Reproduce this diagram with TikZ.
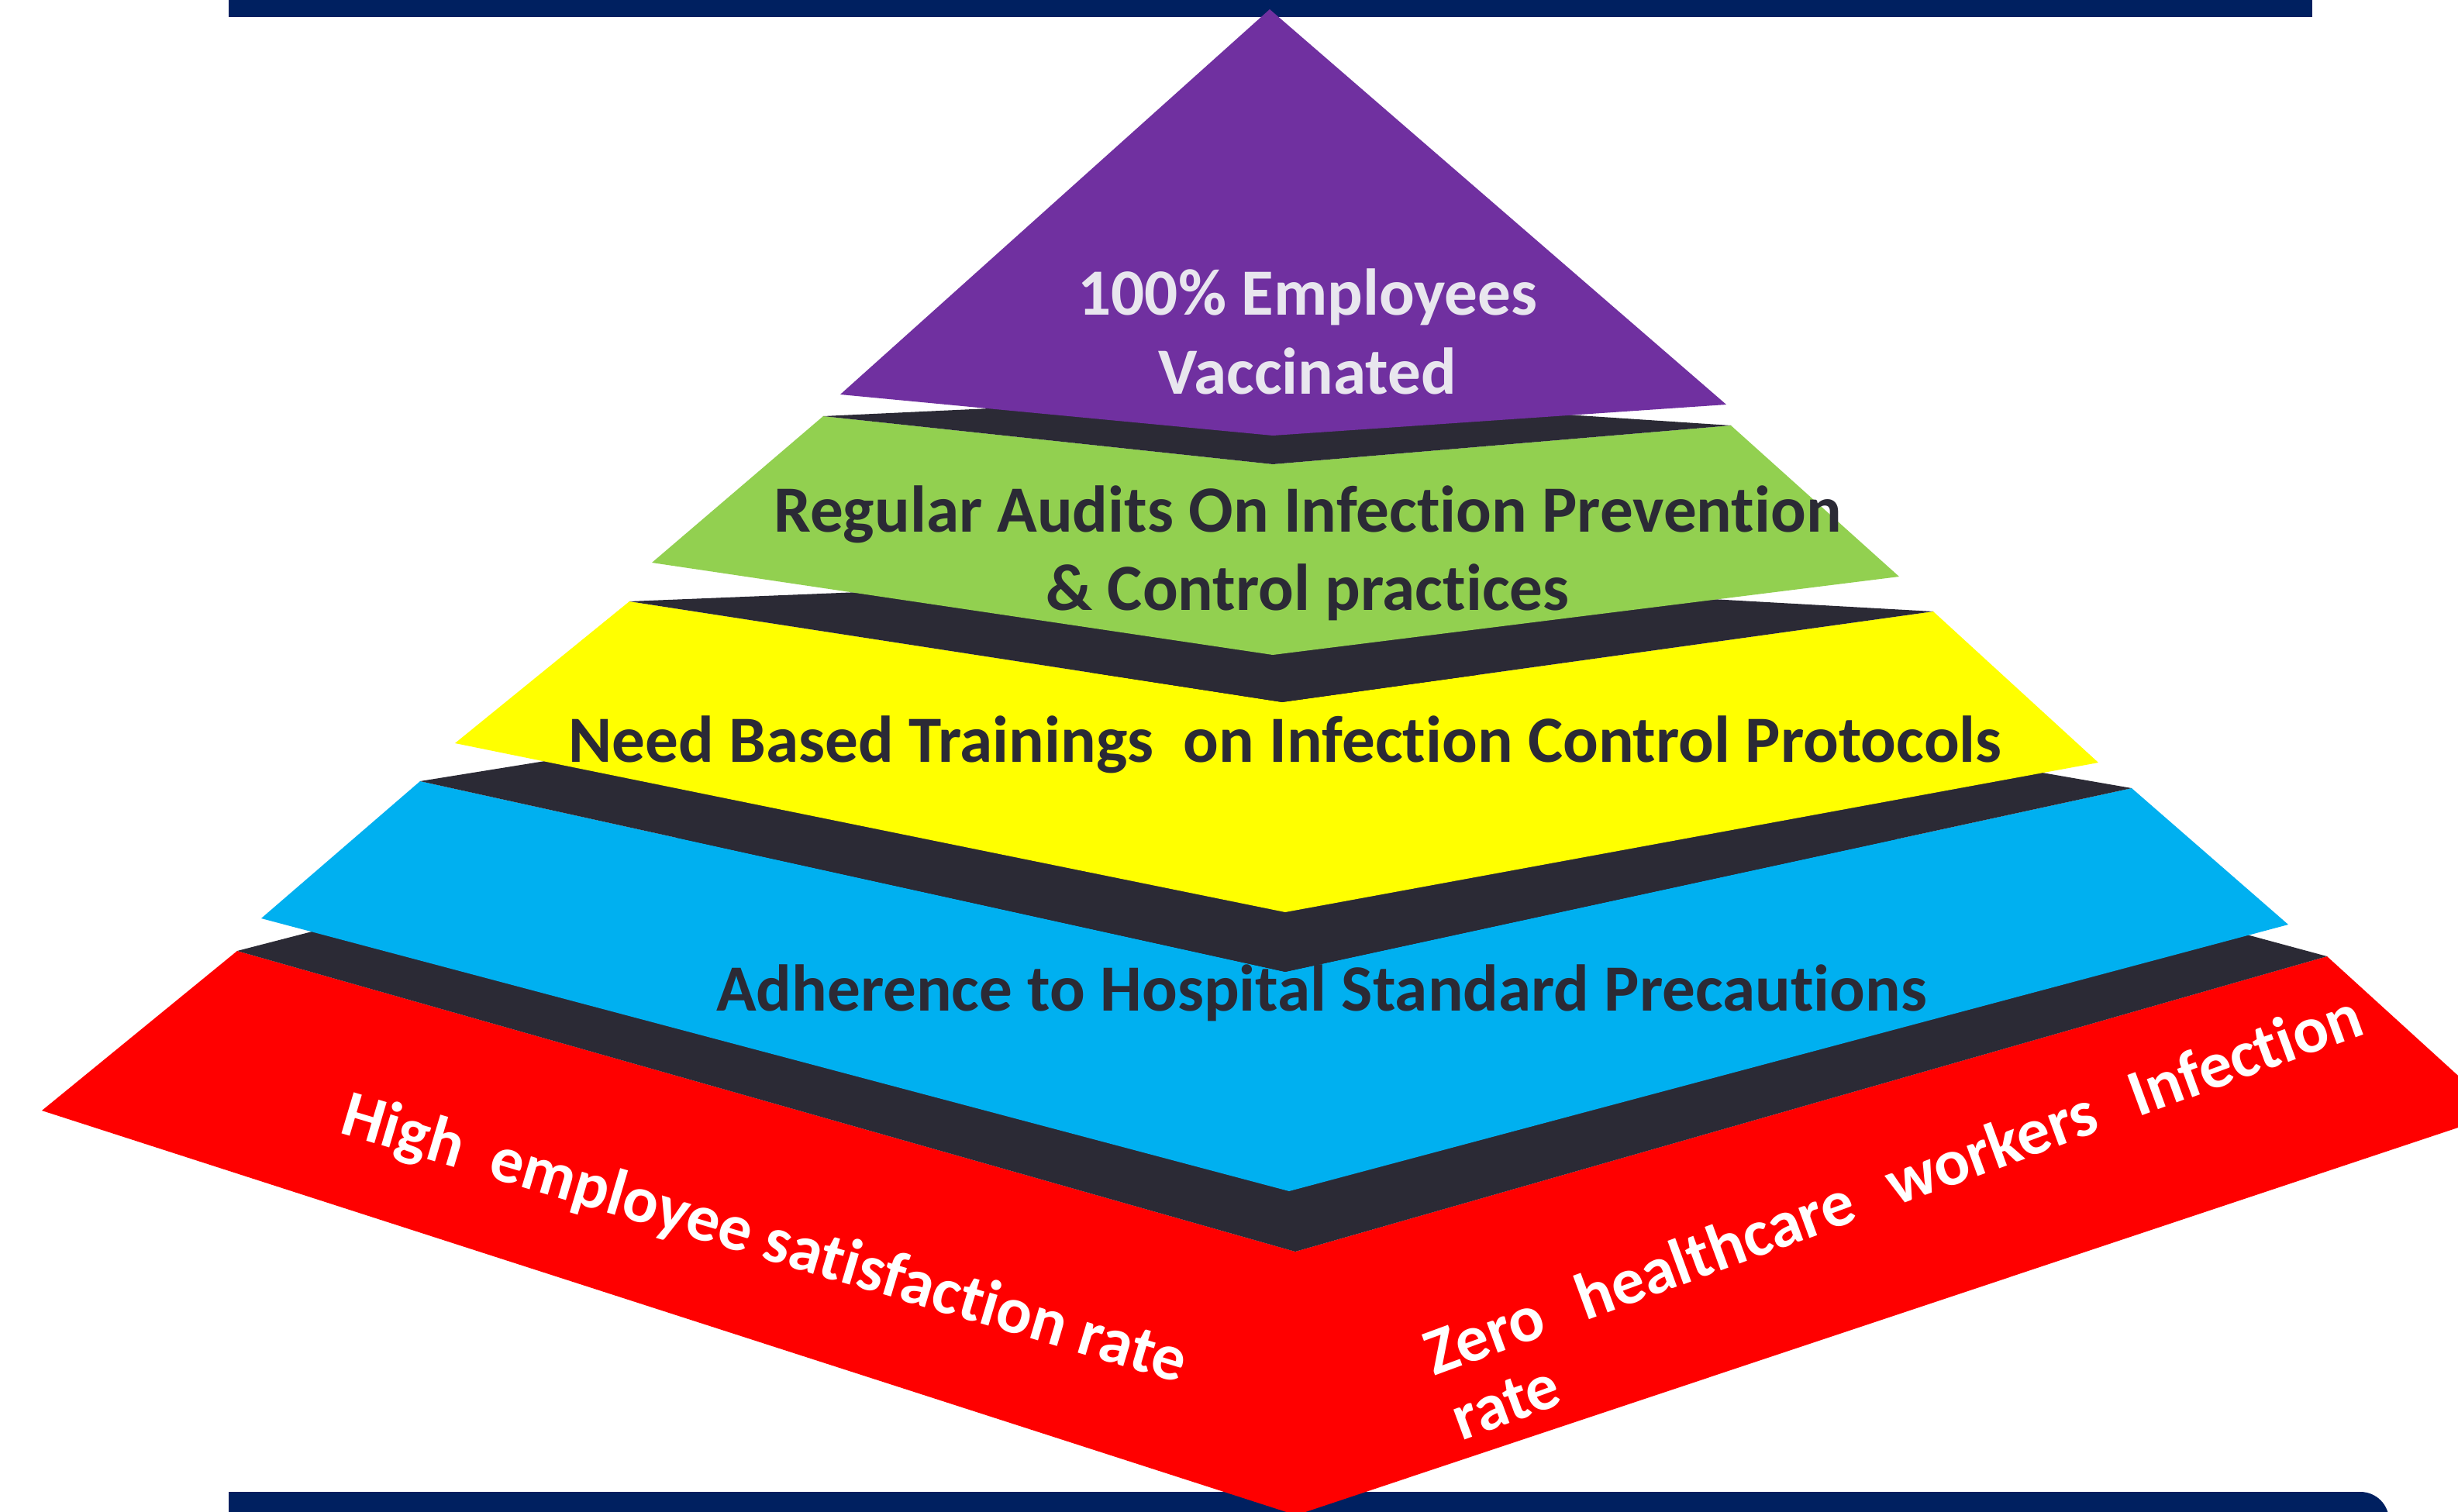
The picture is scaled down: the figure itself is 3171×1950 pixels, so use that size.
\documentclass[tikz,border=0pt]{standalone}
\usepackage{fontspec}
\setmainfont{Carlito}[Ligatures={NoCommon,NoContextual}]
\definecolor{navy}{HTML}{002060}
\definecolor{tierpurple}{HTML}{7030A0}
\definecolor{tiergreen}{HTML}{92D050}
\definecolor{tieryellow}{HTML}{FFFF00}
\definecolor{tierblue}{HTML}{00B0F0}
\definecolor{tierred}{HTML}{FF0000}
\definecolor{band}{HTML}{2B2A35}
\definecolor{lighttext}{HTML}{E8E6EE}
\newcommand{\wgap}{\hspace{12.5pt}}
\begin{document}
\begin{tikzpicture}[x=0.25pt,y=-0.25pt,
  label/.style={inner sep=0pt, anchor=base, font=\bfseries\fontsize{21.3}{25}\selectfont},
  darklabel/.style={label, text=band},
  whitelabel/.style={label, text=white},
  bandfill/.style={fill=band}]
\useasboundingbox (0,0) rectangle (3171,1950);
\clip (0,0) rectangle (3171,1950);
% bars
\fill[navy] (295,0) rectangle (2983,22);
\fill[navy] (295,1925) -- (3045,1925) arc (90:0:9.25pt) -- (3082,1990) -- (295,1990) -- cycle;
% red tier
\fill[tierred] (306,1227) -- (54,1433) -- (1672,1955) -- (3225,1437) -- (3002,1234) -- (1671,1615) -- cycle;
\fill[bandfill] (306,1227) -- (1671,1615) -- (3002,1234) -- (1671,874) -- cycle;
% blue tier
\fill[tierblue] (542,1008) -- (337,1185) -- (1663,1537) -- (2952,1193) -- (2750,1017) -- (1658,1254) -- cycle;
\fill[bandfill] (542,1008) -- (1658,1254) -- (2750,1017) -- (1658,828) -- cycle;
% yellow tier
\fill[tieryellow] (812,776) -- (587,959) -- (1658,1177) -- (2707,984) -- (2494,789) -- (1654,906) -- cycle;
\fill[bandfill] (812,776) -- (1654,906) -- (2494,789) -- (1654,742) -- cycle;
% green tier
\fill[tiergreen] (1062,537) -- (841,726) -- (1642,845) -- (2450,744) -- (2233,549) -- (1642,599) -- cycle;
\fill[bandfill] (1062,537) -- (1642,599) -- (2233,549) -- (1642,510) -- cycle;
% purple tier
\fill[tierpurple] (1638,12) -- (1084,509) -- (1642,562) -- (2227,522) -- cycle;
% texts
\node[label, text=lighttext] (t1a) at (1687,406) {100\% Employees};
\node[label, text=lighttext] (t1b) at (1687,508) {Vaccinated};
\node[darklabel] (t2a) at (1687,686) {Regular Audits On Infection Prevention};
\node[darklabel] (t2b) at (1687,787) {\& Control practices};
\node[darklabel] (t3) at (1658,983) {Need Based Trainings\ \ on Infection Control Protocols};
\node[darklabel] (t4) at (1705,1304) {Adherence to Hospital Standard Precautions};
\node[whitelabel, rotate=-16.6] (t5) at (979,1623) {High\ \ employee satisfaction rate};
\node[whitelabel, anchor=base west, rotate=20.2] (t6a) at (1850,1776) {Zero\wgap healthcare\wgap workers\wgap Infection};
\node[whitelabel, anchor=base west, rotate=20.2] (t6b) at (1885,1860) {rate};
\end{tikzpicture}
\end{document}
